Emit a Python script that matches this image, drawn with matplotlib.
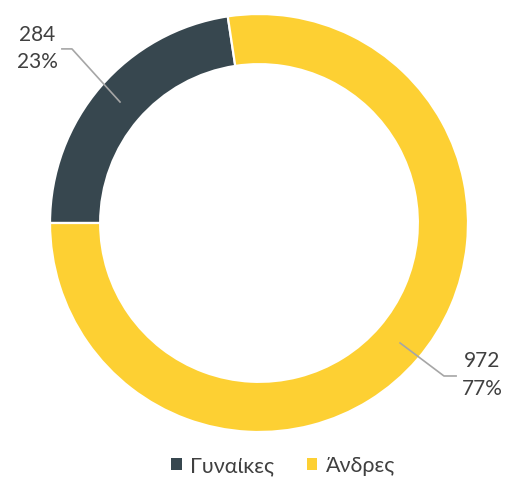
import matplotlib
matplotlib.use("Agg")
import matplotlib.pyplot as plt
from matplotlib.patches import Patch

categories = ["Γυναίκες", "Άνδρες"]
values = [284, 972]
percents = ["23%", "77%"]
colors = ["#37474F", "#FDD033"]

plt.rcParams['font.family'] = ['Lato', 'DejaVu Sans']
txt = "#404040"

fig = plt.figure(figsize=(5.09, 5.03), dpi=100)
ax = fig.add_axes([50/509, 71/503, 418/509, 418/503])
wedges, _ = ax.pie(values, colors=colors, startangle=180, counterclock=False,
                   radius=1, wedgeprops=dict(width=0.24, edgecolor="white", linewidth=1.6))
ax.set_xlim(-1, 1)
ax.set_ylim(-1, 1)
ax.set_aspect("equal")
ax.axis("off")

# labels with leader lines
lab_pos = [(-1.06, 0.835), (1.067, -0.727)]
leaders = [[(-0.665, 0.579), (-0.895, 0.833), (-0.943, 0.833)],
           [(0.675, -0.574), (0.885, -0.732), (0.943, -0.732)]]
for v, p, pos, ld in zip(values, percents, lab_pos, leaders):
    xs, ys = zip(*ld)
    ax.plot(xs, ys, color="#A6A6A6", lw=1.2, clip_on=False)
    ax.text(pos[0], pos[1], f"{v}\n{p}", ha="center", va="center", fontsize=15,
            color=txt, linespacing=1.45, clip_on=False)

handles = [Patch(facecolor=c, edgecolor="none") for c in colors]
fig.legend(handles, categories, loc="center", bbox_to_anchor=(283/509, 37/503),
           ncol=2, frameon=False, fontsize=15.5, labelcolor=txt,
           handlelength=0.5, handleheight=0.5, handletextpad=0.4, columnspacing=1.5)

fig.savefig("out.png", dpi=100)
